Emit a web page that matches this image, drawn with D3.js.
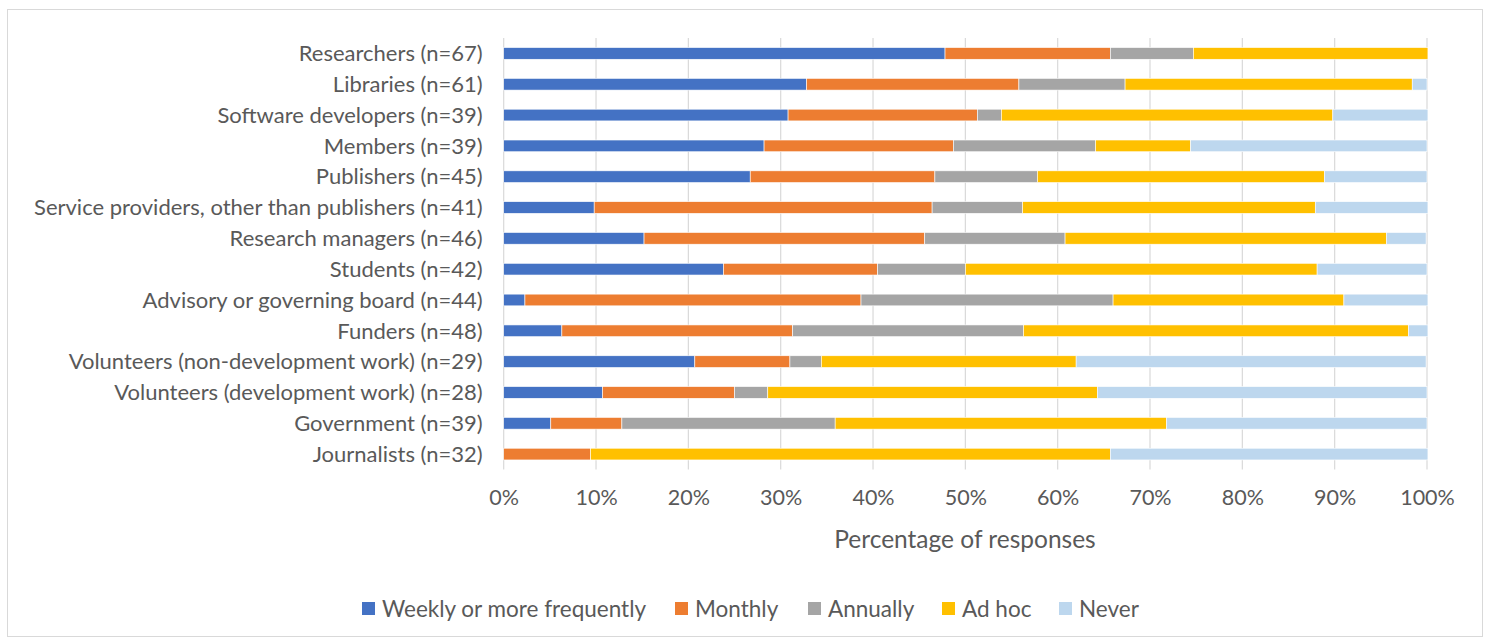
<!DOCTYPE html>
<html><head><meta charset="utf-8">
<script src="https://cdn.jsdelivr.net/npm/d3@7"></script>
<style>
html,body{margin:0;padding:0;background:#fff;}
svg{display:block;font-family:Lato, "Open Sans", sans-serif;}
</style></head>
<body>
<svg id="chart" width="1490" height="643"></svg>
<script>
const categories = [
  "Researchers (n=67)",
  "Libraries (n=61)",
  "Software developers (n=39)",
  "Members (n=39)",
  "Publishers (n=45)",
  "Service providers, other than publishers (n=41)",
  "Research managers (n=46)",
  "Students (n=42)",
  "Advisory or governing board (n=44)",
  "Funders (n=48)",
  "Volunteers (non-development work) (n=29)",
  "Volunteers (development work) (n=28)",
  "Government (n=39)",
  "Journalists (n=32)"
];
const seriesNames = ["Weekly or more frequently","Monthly","Annually","Ad hoc","Never"];
// percentages
const weekly   = [47.8, 32.8, 30.8, 28.2, 26.7,  9.8, 15.2, 23.8,  2.3,  6.3, 20.7, 10.7,  5.1,  0.0];
const monthly  = [17.9, 23.0, 20.5, 20.5, 20.0, 36.6, 30.4, 16.7, 36.4, 25.0, 10.3, 14.3,  7.7,  9.4];
const annually = [ 9.0, 11.5,  2.6, 15.4, 11.1,  9.8, 15.2,  9.5, 27.3, 25.0,  3.4,  3.6, 23.1,  0.0];
const adhoc    = [25.4, 31.1, 35.9, 10.3, 31.1, 31.7, 34.8, 38.1, 25.0, 41.7, 27.6, 35.7, 35.9, 56.3];
const never    = [ 0.0,  1.6, 10.3, 25.6, 11.1, 12.2,  4.3, 11.9,  9.1,  2.1, 37.9, 35.7, 28.2, 34.4];
const tickValues = [0,10,20,30,40,50,60,70,80,90,100];
const colors = ["#4472C4","#ED7D31","#A5A5A5","#FFC000","#BDD7EE"];

const seriesData = [weekly, monthly, annually, adhoc, never];
const rows = categories.map((c,i)=>{
  const o = {cat:c};
  seriesNames.forEach((s,j)=>o[s]=seriesData[j][i]);
  return o;
});

const svg = d3.select("#chart");
svg.append("rect").attr("x",7.5).attr("y",9.5).attr("width",1475).attr("height",627)
  .attr("fill","#fff").attr("stroke","#D9D9D9").attr("stroke-width",1);

const m = {left:503.7, right:1427, top:38, bottom:469.5};
const x = d3.scaleLinear().domain([0,100]).range([m.left,m.right]);
const y = d3.scaleBand().domain(categories).range([m.top,m.bottom]).paddingInner(0.62).paddingOuter(0.31);

// gridlines
svg.append("g").selectAll("line").data(tickValues).join("line")
  .attr("x1",d=>x(d)).attr("x2",d=>x(d)).attr("y1",m.top).attr("y2",m.bottom)
  .attr("stroke","#D9D9D9").attr("stroke-width",1.2);

const stack = d3.stack().keys(seriesNames)(rows);
svg.append("g").selectAll("g").data(stack).join("g")
  .attr("fill",(d,i)=>colors[i])
  .selectAll("rect").data(d=>d).join("rect")
  .attr("x",d=>x(d[0])).attr("width",d=>Math.max(0,x(d[1])-x(d[0])))
  .attr("y",d=>y(d.data.cat)).attr("height",y.bandwidth())
  .attr("stroke","#fff").attr("stroke-width",0.6);

// x axis labels
const xa = d3.axisBottom(x).tickValues(tickValues).tickFormat(d=>d+"%").tickSize(0).tickPadding(0);
const gx = svg.append("g").attr("transform",`translate(0,${m.bottom})`).call(xa);
gx.select(".domain").remove();
gx.selectAll("text").attr("dy",null).attr("y",35).attr("fill","#595959")
  .style("font-size","21.5px").style("font-family","Lato, sans-serif");

// y axis labels
const ya = d3.axisLeft(y).tickSize(0).tickPadding(21);
const gy = svg.append("g").attr("transform",`translate(${m.left},0)`).call(ya);
gy.select(".domain").remove();
gy.selectAll("text").attr("fill","#595959").attr("dy","0.35em")
  .style("font-size","22px").style("font-family","Lato, sans-serif");

// axis title
svg.append("text").attr("x",965).attr("y",548).attr("text-anchor","middle")
  .attr("fill","#595959").style("font-size","24.5px").text("Percentage of responses");

// legend
const legendX = [362, 675, 808, 942, 1059];
const lg = svg.append("g").selectAll("g").data(seriesNames).join("g")
  .attr("transform",(d,i)=>`translate(${legendX[i]},609)`);
lg.append("rect").attr("x",0).attr("y",-7).attr("width",13).attr("height",13).attr("fill",(d,i)=>colors[i]);
lg.append("text").attr("x",20).attr("y",0).attr("dy","0.35em").attr("fill","#595959")
  .style("font-size","22.5px").text(d=>d);
</script>
</body></html>
